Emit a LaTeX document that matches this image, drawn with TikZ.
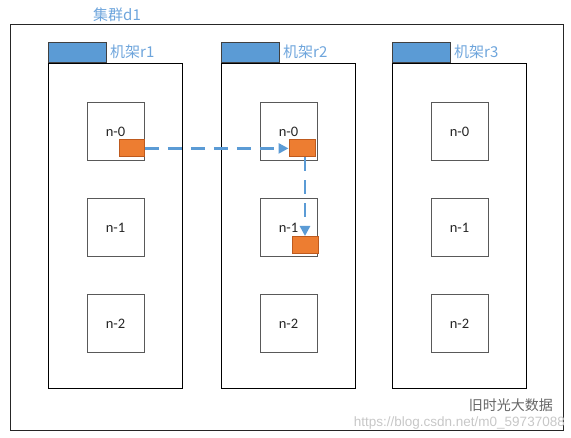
\documentclass[tikz,border=0pt]{standalone}
\usepackage{fontspec}
\setmainfont{Carlito}
\newfontfamily\cjk{Noto Sans CJK SC}
\newfontfamily\wmfont{Liberation Sans}
\usetikzlibrary{arrows.meta}
\definecolor{lblue}{RGB}{91,155,213}
\definecolor{ltxt}{RGB}{110,165,220}
\definecolor{orng}{RGB}{237,125,49}
\definecolor{orngd}{RGB}{190,90,30}
\definecolor{gbox}{RGB}{89,89,89}
\tikzset{
  outerbox/.style={draw=black!85,line width=0.9pt},
  rackbox/.style={draw=black,line width=0.9pt,fill=white},
  tabbox/.style={draw=black!75,line width=0.9pt,fill=lblue},
  nodebox/.style={draw=gbox,line width=1.1pt,fill=white},
  databox/.style={draw=orngd,line width=0.8pt,fill=orng},
  lbl/.style={text=ltxt,font=\cjk\fontsize{15}{15}\selectfont,inner sep=0pt,anchor=west},
  ntxt/.style={font=\fontsize{14.5}{14.5}\selectfont,text=black!85},
  flow/.style={draw=lblue,line width=2.8pt,dash pattern=on 14pt off 9pt,-{Triangle[length=10pt,width=10pt]}}
}
\begin{document}
\begin{tikzpicture}[x=1pt,y=-1pt]
\useasboundingbox (0,0) rectangle (571,438);
\node[outerbox,minimum width=553pt,minimum height=406pt,anchor=north west,inner sep=0pt] (d1) at (10,24.5) {};
\node[lbl] (d1l) at (93,15) {集群d1};
\foreach \i/\x in {1/48,2/221,3/392}{
  \node[rackbox,minimum width=134pt,minimum height=325pt,anchor=north west,inner sep=0pt] (r\i) at (\x,63) {};
  \node[tabbox,minimum width=58pt,minimum height=20pt,anchor=south west,inner sep=0pt] (t\i) at (\x,63) {};
  \node[lbl] (rl\i) at (\x+62,52) {机架r\i};
  \foreach \j/\y in {0/102,1/198,2/294}{
    \node[nodebox,minimum width=57pt,minimum height=58pt,anchor=north west,inner sep=0pt] (n\i\j) at (\x+39,\y) {};
    \node[ntxt] (nt\i\j) at (\x+67.5,\y+29.5) {n-\j};
  }
}
\node[databox,minimum width=25pt,minimum height=17pt,anchor=north west,inner sep=0pt] (b1) at (119,139.5) {};
\node[databox,minimum width=26pt,minimum height=17pt,anchor=north west,inner sep=0pt] (b2) at (288.5,139.5) {};
\node[databox,minimum width=26pt,minimum height=17pt,anchor=north west,inner sep=0pt] (b3) at (292,236) {};
\draw[flow] (b1.east) -- (b2.west);
\draw[flow] (b2.south -| 305,0) -- (b3.north -| 305,0);
\node[text=black!60,font=\cjk\fontsize{14}{14}\selectfont,anchor=east,inner sep=0pt] (wm1) at (553,405) {旧时光大数据};
\node[text=black!22,font=\wmfont\fontsize{13.5}{13.5}\selectfont,anchor=east,inner sep=0pt] (wm2) at (565,423) {https://blog.csdn.net/m0\_59737088};
\end{tikzpicture}
\end{document}
